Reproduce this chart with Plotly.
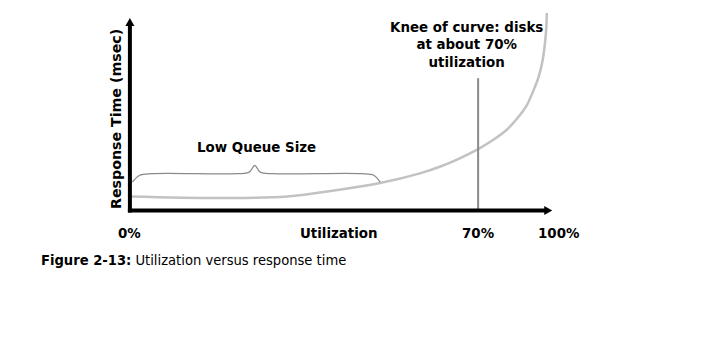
import plotly.graph_objects as go

# Schematic response-time curve (x: utilization position, y: response time units)
curve_x = [0, 18.1, 31.6, 41.6, 50.3, 58.3, 62.3, 66.3, 70.0, 73.0, 75.7, 78.0, 79.8,
           81.0, 82.1, 82.9, 83.4, 83.7, 83.8]
curve_y = [7.3, 6.5, 7.2, 10.6, 14.3, 19.3, 22.7, 27.1, 31.9, 36.6, 41.8, 48.3, 54.8,
           61.6, 68.9, 77.2, 86.0, 94.8, 102.6]

# Brace spanning the low-queue region
brace_x = [0.5, 2.0, 4.5, 21.5, 24.0, 25.1, 26.2, 28.7, 46.5, 49.0, 50.3]
brace_y = [14.7, 18.3, 19.1, 19.1, 19.9, 23.4, 19.9, 19.1, 19.1, 18.3, 14.7]

knee_x = 70
knee_top = 68.75

tick_positions = [0, 70, 86.2]
tick_labels = ["0%", "70%", "100%"]

x_axis_end = 84.9
y_axis_end = 100

BOLD = "DejaVu Sans, Verdana, sans-serif"
CAPTION = "DejaVu Sans Condensed, sans-serif"
GRAY = "#8a8a8a"

fig = go.Figure()

fig.add_trace(go.Scatter(
    x=curve_x, y=curve_y, mode="lines",
    line=dict(color="#c2c2c2", width=2.5, shape="spline", smoothing=1.0),
    hoverinfo="skip", showlegend=False, cliponaxis=False,
))
fig.add_trace(go.Scatter(
    x=brace_x, y=brace_y, mode="lines", line=dict(color=GRAY, width=1.3, shape="spline"),
    hoverinfo="skip", showlegend=False,
))

shapes = [
    # knee marker
    dict(type="line", x0=knee_x, x1=knee_x, y0=0, y1=knee_top, xref="x", yref="y",
         line=dict(color=GRAY, width=2)),
    # axes
    dict(type="line", x0=0, x1=0, y0=-1, y1=y_axis_end - 3, xref="x", yref="y",
         line=dict(color="black", width=4)),
    dict(type="line", x0=-0.4, x1=x_axis_end - 1.2, y0=0, y1=0, xref="x", yref="y",
         line=dict(color="black", width=4)),
    # arrow heads
    dict(type="path", xref="x", yref="y", xsizemode="pixel", ysizemode="pixel",
         xanchor=0, yanchor=y_axis_end, path="M -4.5 -8 L 0 0 L 4.5 -8 Z",
         fillcolor="black", line=dict(width=0)),
    dict(type="path", xref="x", yref="y", xsizemode="pixel", ysizemode="pixel",
         xanchor=x_axis_end, yanchor=0, path="M -8 -4.5 L 0 0 L -8 4.5 Z",
         fillcolor="black", line=dict(width=0)),
]

label_font = dict(family=BOLD, size=13.4, color="black")
annotations = []
for pos, lab in zip(tick_positions, tick_labels):
    annotations.append(dict(x=pos, y=-0.05, xref="x", yref="paper", text="<b>" + lab + "</b>",
                            showarrow=False, font=label_font,
                            xanchor="center", yanchor="middle"))
annotations += [
    dict(x=42.0, y=-0.05, xref="x", yref="paper", text="<b>Utilization</b>", showarrow=False,
         font=label_font, xanchor="center", yanchor="middle"),
    dict(x=-2.9, y=47.8, xref="x", yref="y", text="<b>Response Time (msec)</b>", showarrow=False,
         textangle=-90, font=dict(family=BOLD, size=14.2, color="black"),
         xanchor="center", yanchor="middle"),
    dict(x=25.5, y=32.8, xref="x", yref="y", text="<b>Low Queue Size</b>", showarrow=False,
         font=label_font, xanchor="center", yanchor="middle"),
    dict(x=67.6, y=85.9, xref="x", yref="y",
         text="<b>Knee of curve: disks<br>at about 70%<br>utilization</b>", showarrow=False,
         font=label_font, xanchor="center", yanchor="middle", align="center"),
    dict(x=-0.145, y=-0.167, xref="paper", yref="paper",
         text="<b>Figure 2-13:</b> Utilization versus response time", showarrow=False,
         font=dict(family=CAPTION, size=14.6, color="black"), xanchor="left", yanchor="middle"),
]

fig.update_layout(
    width=704, height=338,
    margin=dict(l=110, r=104, t=0, b=116),
    paper_bgcolor="white", plot_bgcolor="white",
    xaxis=dict(range=[-4, 94.5], visible=False, fixedrange=True),
    yaxis=dict(range=[-6, 109.4], visible=False, fixedrange=True),
    shapes=shapes, annotations=annotations, showlegend=False,
)

fig.write_html("out.html")
